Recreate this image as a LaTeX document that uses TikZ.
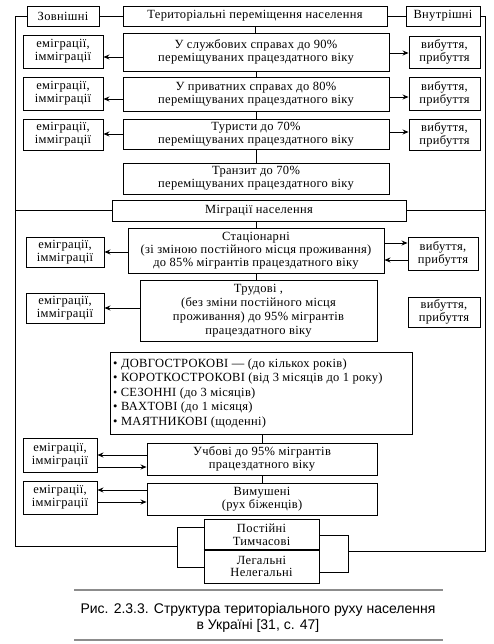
\documentclass[tikz,border=0pt]{standalone}
\usepackage{fontspec}
\setmainfont{Liberation Serif}[LetterSpace=2.5]
\newfontfamily\capfont{Liberation Sans}
\usetikzlibrary{arrows.meta,calc}
\begin{document}
\begin{tikzpicture}[x=1pt,y=-1pt,
  every node/.style={font=\fontsize{12.5}{12.8}\selectfont, align=center, inner sep=0pt},
  bx/.style={draw, line width=0.9pt, minimum width=#1},
  ln/.style={line width=0.9pt},
  arr/.style={line width=0.9pt, -{Stealth[length=6pt,width=5pt]}},
  capline/.style={line width=2.5pt, draw=black!45}]
\useasboundingbox (0,0) rectangle (493,644);

% top row
\node[bx=72pt, minimum height=20pt] (zov) at (63,16) {Зовнішні};
\node[bx=264pt, minimum height=20pt] (title) at (255,16) {Територіальні переміщення населення};
\node[bx=74pt, minimum height=20pt] (vnu) at (443,16) {Внутрішні};

% rows of the upper part
\node[bx=266pt, minimum height=38pt] (r1m) at (256,52) {У службових справах до 90\%\\переміщуваних працездатного віку};
\node[bx=80pt, minimum height=33pt] (r1l) at (63,51.5) {еміграції,\\імміграції};
\node[bx=71pt, minimum height=32pt] (r1r) at (444.5,52) {вибуття,\\прибуття};

\node[bx=266pt, minimum height=34pt] (r2m) at (256,94) {У приватних справах до 80\%\\переміщуваних працездатного віку};
\node[bx=80pt, minimum height=33pt] (r2l) at (63,93.5) {еміграції,\\імміграції};
\node[bx=71pt, minimum height=33pt] (r2r) at (444.5,93.5) {вибуття,\\прибуття};

\node[bx=266pt, minimum height=30pt] (r3m) at (256,134) {Туристи до 70\%\\переміщуваних працездатного віку};
\node[bx=80pt, minimum height=31pt] (r3l) at (63,134.5) {еміграції,\\імміграції};
\node[bx=71pt, minimum height=31pt] (r3r) at (444.5,134.5) {вибуття,\\прибуття};

\node[bx=266pt, minimum height=31pt] (r4m) at (256,178.5) {Транзит до 70\%\\переміщуваних працездатного віку};

% migrations
\node[bx=294pt, minimum height=21pt] (mig) at (259,210.5) {Міграції населення};

\node[bx=256pt, minimum height=45pt, font=\fontsize{12.5}{13}\selectfont] (st) at (256,250.5) {Стаціонарні\\(зі зміною постійного місця проживання)\\до 85\% мігрантів працездатного віку};
\node[bx=78pt, minimum height=30pt] (stl) at (65,252) {еміграції,\\імміграції};
\node[bx=70pt, minimum height=33pt] (str) at (443,253.5) {вибуття,\\прибуття};

\node[bx=237pt, minimum height=61pt, font=\fontsize{12.5}{14}\selectfont] (tr) at (258.5,310.5) {Трудові ,\\(без зміни постійного місця\\проживання) до 95\% мігрантів\\працездатного віку};
\node[bx=78pt, minimum height=30pt] (trl) at (65,308) {еміграції,\\імміграції};
\node[bx=72pt, minimum height=30pt] (trr) at (444,312) {вибуття,\\прибуття};

\node[bx=302pt, minimum height=82pt] (list) at (261,393) {};
\node[anchor=west, align=left, font=\fontsize{12.5}{14.5}\selectfont] (listtxt) at (113,393) {\textbullet{} ДОВГОСТРОКОВІ — (до кількох років)\\
\textbullet{} КОРОТКОСТРОКОВІ (від 3 місяців до 1 року)\\
{\large\textbullet}{} СЕЗОННІ (до 3 місяців)\\
\textbullet{} ВАХТОВІ (до 1 місяця)\\
\textbullet{} МАЯТНИКОВІ (щоденні)};

\node[bx=230pt, minimum height=32pt] (uch) at (262,459) {Учбові до 95\% мігрантів\\працездатного віку};
\node[bx=74pt, minimum height=34pt] (uchl) at (60,455) {еміграції,\\імміграції};

\node[bx=230pt, minimum height=32pt] (vym) at (262,499) {Вимушені\\(рух біженців)};
\node[bx=74pt, minimum height=33pt] (vyml) at (60,497.5) {еміграції,\\імміграції};

\node[bx=115pt, minimum height=31pt] (post) at (261.5,534.5) {Постійні\\Тимчасові};
\node[bx=115pt, minimum height=33pt] (leg) at (261.5,566.5) {Легальні\\Нелегальні};
\draw[line width=2pt] (post.south west) -- (post.south east);

% top row links
\draw[ln] (zov.east) -- (title.west);
\draw[ln] (title.east) -- (vnu.west);

% vertical chain links
\draw[ln] (title.south) -- (title.south |- r1m.north);
\draw[ln] (r1m.south) -- (r1m.south |- r2m.north);
\draw[ln] (r2m.south) -- (r2m.south |- r3m.north);
\draw[ln] (r3m.south) -- (r3m.south |- r4m.north);
\draw[ln] (st.north) -- (st.north |- mig.south);
\draw[ln] (st.south) -- (st.south |- tr.north);
\draw[ln] (uch.north) -- (uch.north |- list.south);
\draw[ln] (uch.south) -- (uch.south |- vym.north);

% arrows
\draw[arr] (r1m.west |- 0,57) -- (r1l.east |- 0,57);
\draw[arr] (r1m.east |- 0,53) -- (r1r.west |- 0,53);
\draw[arr] (r2m.west |- 0,99) -- (r2l.east |- 0,99);
\draw[arr] (r2m.east |- 0,97) -- (r2r.west |- 0,97);
\draw[arr] (r3m.west |- 0,134) -- (r3l.east |- 0,134);
\draw[arr] (r3m.east |- 0,132) -- (r3r.west |- 0,132);
\draw[arr] (st.west |- 0,252) -- (stl.east |- 0,252);
\draw[arr] (st.east |- 0,243) -- (str.west |- 0,243);
\draw[arr] (str.west |- 0,260) -- (st.east |- 0,260);
\draw[arr] (tr.west |- 0,308) -- (trl.east |- 0,308);
\draw[arr] (uch.west |- 0,455) -- (uchl.east |- 0,455);
\draw[arr] (uchl.east |- 0,467) -- (uch.west |- 0,467);
\draw[arr] (vym.west |- 0,490) -- (vyml.east |- 0,490);
\draw[arr] (vyml.east |- 0,502) -- (vym.west |- 0,502);

% outer bus lines
\coordinate (LT) at (15,16);
\coordinate (LB) at (15,546);
\coordinate (BL) at (177,546);
\coordinate (RT) at (485,16);
\coordinate (RB) at (485,551);
\coordinate (BR) at (348,551);

\draw[ln] (zov.west) -- (LT) -- (LB) -- (BL);
\draw[ln] (post.west |- 0,527) -- (177,527) -- (177,567) -- (leg.west |- 0,567);
\draw[ln] (vnu.east) -- (RT) -- (RB) -- (BR);
\draw[ln] (post.east |- 0,535) -- (348,535) -- (348,572) -- (leg.east |- 0,572);
\draw[ln] (mig.west) -- (mig.west -| LT);
\draw[ln] (mig.east) -- (mig.east -| RT);

% caption
\draw[capline] (74,590) -- (443,590);
\node[font=\capfont\fontsize{14}{16}\selectfont] (cap) at (258,618) {Рис. 2.3.3. Структура територіального руху населення\\в Україні [31, с. 47]};
\draw[capline] (74,640) -- (443,640);
\end{tikzpicture}
\end{document}
